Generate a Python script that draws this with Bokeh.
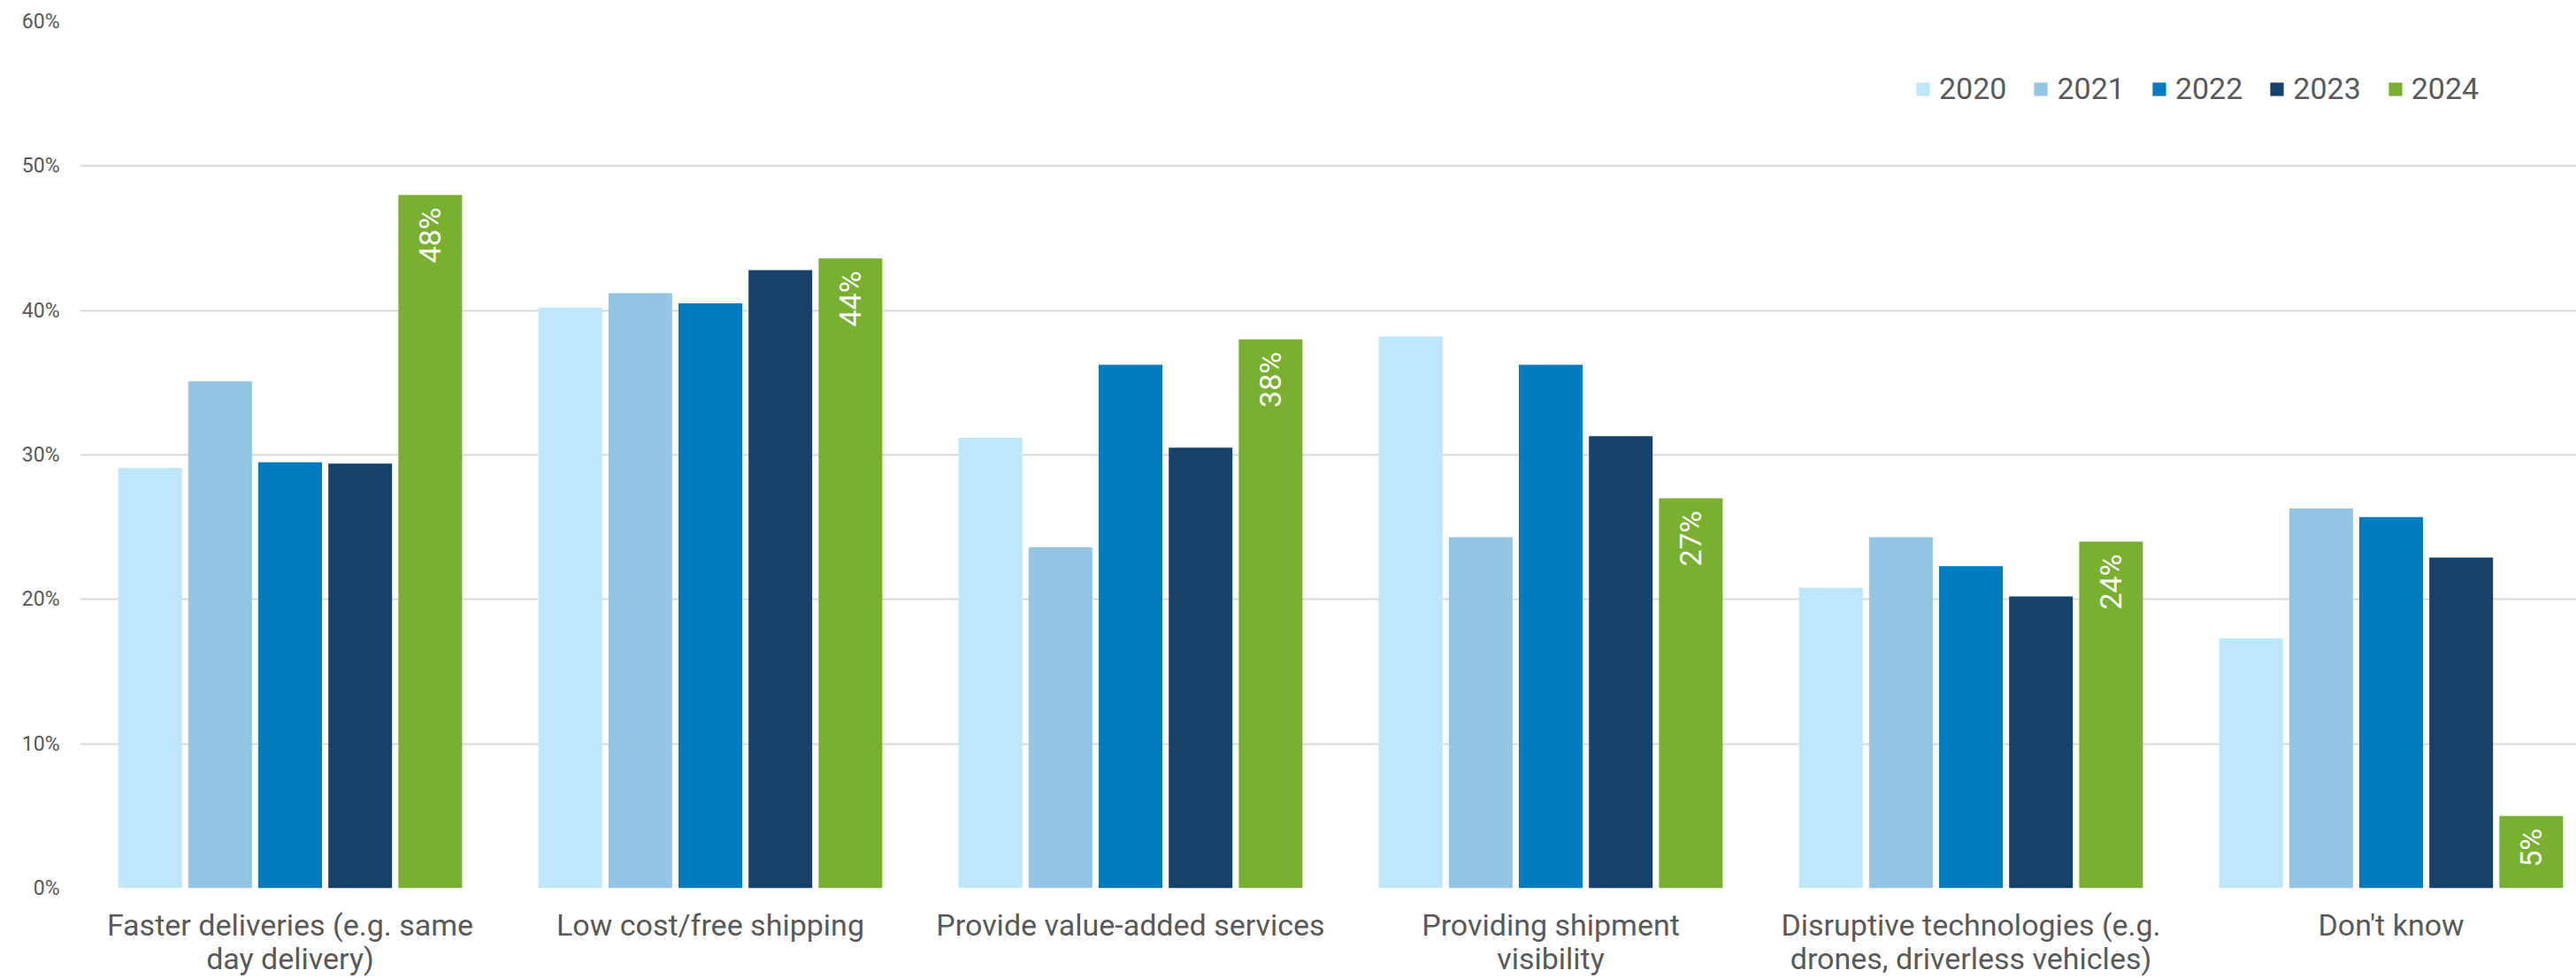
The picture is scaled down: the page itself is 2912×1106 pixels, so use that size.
import math
from bokeh.plotting import figure
from bokeh.models import Range1d, FixedTicker, NumeralTickFormatter, Legend, LegendItem, ColumnDataSource
from bokeh.embed import file_html
from bokeh.resources import INLINE
from bokeh.core.properties import value

categories = [
    "Faster deliveries (e.g. same\nday delivery)",
    "Low cost/free shipping",
    "Provide value-added services",
    "Providing shipment\nvisibility",
    "Disruptive technologies (e.g.\ndrones, driverless vehicles)",
    "Don't know",
]
years = ["2020", "2021", "2022", "2023", "2024"]
v2020 = [0.291, 0.402, 0.312, 0.382, 0.208, 0.173]
v2021 = [0.351, 0.412, 0.236, 0.243, 0.243, 0.263]
v2022 = [0.295, 0.405, 0.3625, 0.3625, 0.223, 0.257]
v2023 = [0.294, 0.428, 0.305, 0.313, 0.202, 0.229]
v2024 = [0.480, 0.436, 0.380, 0.270, 0.240, 0.050]
series = [v2020, v2021, v2022, v2023, v2024]
colors = ["#BCE7FC", "#93C6E4", "#027CC0", "#15416B", "#79B030"]
y_ticks = [0, 0.1, 0.2, 0.3, 0.4, 0.5, 0.6]

FONT = "Roboto"
GREY = "#595959"

p = figure(width=2912, height=1106, output_backend="svg", toolbar_location=None,
           x_range=Range1d(0, 5.941), y_range=Range1d(0, 0.6),
           min_border_left=90, min_border_right=0, min_border_top=24, min_border_bottom=101)
p.outline_line_color = None
p.background_fill_color = "white"
p.border_fill_color = "white"

centers = [i + 0.5 for i in range(len(categories))]
bar_w = 0.1516
step = 0.1667

renderers = []
for k, (yr, vals, col) in enumerate(zip(years, series, colors)):
    xs = [c + (k - 2) * step for c in centers]
    src = ColumnDataSource(dict(x=xs, top=vals))
    r = p.vbar(x="x", top="top", bottom=0, width=bar_w, source=src,
               fill_color=col, line_color=None)
    renderers.append(r)

# data labels for 2024
xs24 = [c + 2 * step for c in centers]
labels24 = ["%d%%" % round(v * 100) for v in v2024]
lsrc = ColumnDataSource(dict(x=xs24, y=v2024, t=labels24))
p.text(x="x", y="y", text="t", source=lsrc, angle=math.pi / 2,
       text_align="right", text_baseline="middle", y_offset=14,
       text_color="white", text_font=value(FONT), text_font_size="34px")

# axes
p.xaxis.ticker = FixedTicker(ticks=centers)
p.xaxis.major_label_overrides = {c: lab for c, lab in zip(centers, categories)}
p.xaxis.axis_line_color = None
p.xaxis.major_tick_line_color = None
p.xaxis.minor_tick_line_color = None
p.xaxis.major_label_text_font = FONT
p.xaxis.major_label_text_font_size = "34px"
p.xaxis.major_label_text_color = GREY
p.xaxis.major_label_text_line_height = 0.95
p.xaxis.major_label_standoff = 15

p.yaxis.ticker = FixedTicker(ticks=y_ticks)
p.yaxis.formatter = NumeralTickFormatter(format="0%")
p.yaxis.axis_line_color = None
p.yaxis.major_tick_line_color = None
p.yaxis.minor_tick_line_color = None
p.yaxis.major_label_text_font = FONT
p.yaxis.major_label_text_font_size = "23px"
p.yaxis.major_label_text_color = GREY
p.yaxis.major_label_standoff = 17

p.xgrid.grid_line_color = None
p.ygrid.grid_line_color = "#D9D9D9"
p.ygrid.grid_line_width = 2

legend = Legend(items=[LegendItem(label=yr, renderers=[r]) for yr, r in zip(years, renderers)],
                orientation="horizontal", location=(2074, 884),
                glyph_width=19, glyph_height=19, label_standoff=9, spacing=29,
                padding=0, margin=0, border_line_color=None, background_fill_alpha=0,
                label_text_font=FONT, label_text_font_size="34px", label_text_color=GREY)
p.add_layout(legend, "center")

open("out.html", "w").write(file_html(p, INLINE))
